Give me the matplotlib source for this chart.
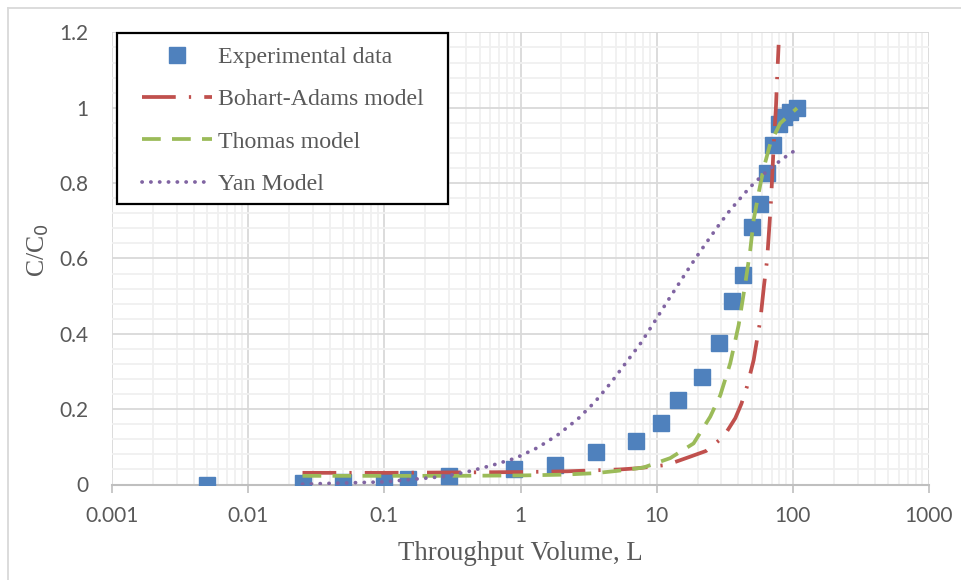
import matplotlib
matplotlib.use("Agg")
import matplotlib.pyplot as plt
from matplotlib.lines import Line2D
from matplotlib.patches import Rectangle
from matplotlib.ticker import LogLocator, MultipleLocator, FixedLocator, FixedFormatter

# ---- data ----
exp_x = [0.005, 0.025, 0.05, 0.1, 0.15, 0.3, 0.9, 1.8, 3.6, 7.1, 10.7, 14.3, 21.4,
         28.6, 35.7, 42.9, 50, 57.1, 64.3, 71.4, 79, 87, 96, 107]
exp_y = [0.0, 0.003, 0.007, 0.011, 0.015, 0.023, 0.040, 0.052, 0.087, 0.116, 0.164,
         0.224, 0.285, 0.376, 0.487, 0.557, 0.684, 0.745, 0.827, 0.900, 0.957, 0.976,
         0.990, 0.999]

ba_x = [0.025, 0.1, 0.3, 1, 2.2, 5.4, 7.2, 11.9, 17.7, 23.1, 31.1, 37.9, 42, 46.2,
        51.7, 53.8, 57.9, 61.6, 64.9, 67.5, 69.4, 72.5, 75.5, 76.8, 78.9]
ba_y = [0.031, 0.031, 0.032, 0.033, 0.035, 0.040, 0.043, 0.052, 0.074, 0.089, 0.127,
        0.176, 0.214, 0.26, 0.33, 0.368, 0.437, 0.528, 0.596, 0.687, 0.755, 0.897,
        1.006, 1.074, 1.167]

th_x = [0.025, 0.1, 0.3, 1, 2, 3.5, 5.1, 8.0, 12.6, 18.7, 24.8, 29.4, 34.8, 40.1,
        44.9, 48.8, 51.7, 56.2, 61.2, 68.5, 81.1, 107.7]
th_y = [0.023, 0.023, 0.023, 0.024, 0.026, 0.030, 0.036, 0.045, 0.07, 0.109, 0.18,
        0.237, 0.322, 0.423, 0.534, 0.622, 0.702, 0.773, 0.839, 0.905, 0.959, 0.999]

yan_x = [0.025, 0.05, 0.1, 0.27, 0.41, 0.62, 0.92, 1.34, 1.90, 2.64, 3.54, 4.64, 5.98,
         7.68, 9.66, 12.1, 15.2, 17.7, 20.7, 24.3, 28.6, 33.8, 40.4, 48.6, 59.6, 73.4,
         82.3, 91.9, 103.5, 107]
yan_y = [0.001, 0.004, 0.007, 0.021, 0.034, 0.051, 0.070, 0.098, 0.133, 0.174, 0.220,
         0.271, 0.324, 0.376, 0.432, 0.488, 0.543, 0.580, 0.616, 0.652, 0.688, 0.723,
         0.756, 0.789, 0.820, 0.848, 0.861, 0.874, 0.886, 0.889]

x_ticks = [0.001, 0.01, 0.1, 1, 10, 100, 1000]
x_tick_labels = ["0.001", "0.01", "0.1", "1", "10", "100", "1000"]
y_ticks = [0, 0.2, 0.4, 0.6, 0.8, 1.0, 1.2]
y_tick_labels = ["0", "0.2", "0.4", "0.6", "0.8", "1", "1.2"]

labels = ["Experimental data", "Bohart-Adams model", "Thomas model", "Yan Model"]

# ---- style ----
W, H = 961, 580
fig = plt.figure(figsize=(W / 100, H / 100), dpi=100)
fig.patch.set_facecolor("white")
left, right, bottom, top = 112.3, 928.7, 484.5, 32.4
ax = fig.add_axes([left / W, 1 - bottom / H, (right - left) / W, (bottom - top) / H])

blue = "#4F81BD"
red = "#C0504D"
green = "#9BBB59"
purple = "#8064A2"

ax.set_xscale("log")
ax.set_xlim(0.001, 1000)
ax.set_ylim(0, 1.2)

ax.xaxis.set_major_locator(FixedLocator(x_ticks))
ax.xaxis.set_major_formatter(FixedFormatter(x_tick_labels))
ax.xaxis.set_minor_locator(LogLocator(base=10, subs=range(2, 10), numticks=100))
ax.yaxis.set_major_locator(FixedLocator(y_ticks))
ax.yaxis.set_major_formatter(FixedFormatter(y_tick_labels))
ax.yaxis.set_minor_locator(MultipleLocator(0.04))

ax.grid(which="minor", color="#F0F0F0", linewidth=1.3, zorder=0)
ax.grid(which="major", color="#D9D9D9", linewidth=1.3, zorder=0)
ax.set_axisbelow(True)

for s in ["top", "right", "left"]:
    ax.spines[s].set_visible(False)
ax.spines["bottom"].set_color("#BFBFBF")
ax.spines["bottom"].set_linewidth(1.5)

ax.tick_params(axis="x", which="major", length=5.5, width=1.2, color="#BFBFBF",
               direction="out", pad=10, labelcolor="#595959", labelsize=15)
ax.tick_params(axis="x", which="minor", length=0)
ax.tick_params(axis="y", which="both", length=0, pad=17, labelcolor="#595959",
               labelsize=15)
for lab in ax.get_xticklabels() + ax.get_yticklabels():
    lab.set_fontfamily("Lato")

# series (Excel draws later series on top)
ax.plot(exp_x, exp_y, linestyle="none", marker="s", markersize=11,
        markerfacecolor=blue, markeredgecolor=blue, zorder=3, label=labels[0])
ax.plot(ba_x, ba_y, color=red, linewidth=2.7, linestyle=(0, (9, 3.5, 0.6, 3.5)),
        zorder=4, label=labels[1])
ax.plot(th_x, th_y, color=green, linewidth=2.7, linestyle=(0, (5, 3)),
        zorder=5, label=labels[2])
ax.plot(yan_x, yan_y, color=purple, linewidth=2.7, linestyle=(0, (0.05, 2.3)),
        dash_capstyle="round", solid_capstyle="round", zorder=6, label=labels[3])

serif = "Liberation Serif"
fig.text(520.5 / W, 1 - 554 / H, "Throughput Volume, L", family=serif, size=19.3,
         color="#595959", ha="center", va="center")
fig.text(38.5 / W, 1 - 250 / H, "C/C$_0$", family=serif, size=18.5,
         color="#595959", ha="center", va="center", rotation=90)

# legend: frame drawn separately
frame = Rectangle((117.3 / W, 1 - 204.3 / H), (448.3 - 117.3) / W, (204.3 - 33.3) / H,
                  transform=fig.transFigure, facecolor="white", edgecolor="black",
                  linewidth=1.6, zorder=9, clip_on=False)
ax.add_patch(frame)

handles, labs = ax.get_legend_handles_labels()
order = [labs.index(l) for l in labels]
fs = 17.2
leg = ax.legend([handles[i] for i in order], [labs[i] for i in order],
                loc="upper left", bbox_to_anchor=(141.7 / W, 1 - 46.5 / H),
                bbox_transform=fig.transFigure, borderaxespad=0, borderpad=0,
                prop=dict(family=serif, size=fs), labelcolor="#595959",
                frameon=False, handlelength=70 / (fs * 100 / 72),
                handletextpad=0.28, labelspacing=0.86, numpoints=1)
leg.set_zorder(10)

# outer chart border (left and top)
fig.add_artist(Line2D([8 / W, 8 / W], [0, 1 - 8 / H], color="#D9D9D9", linewidth=1.3))
fig.add_artist(Line2D([8 / W, 1], [1 - 8 / H, 1 - 8 / H], color="#D9D9D9", linewidth=1.3))

fig.savefig("out.png", dpi=100, facecolor="white")
